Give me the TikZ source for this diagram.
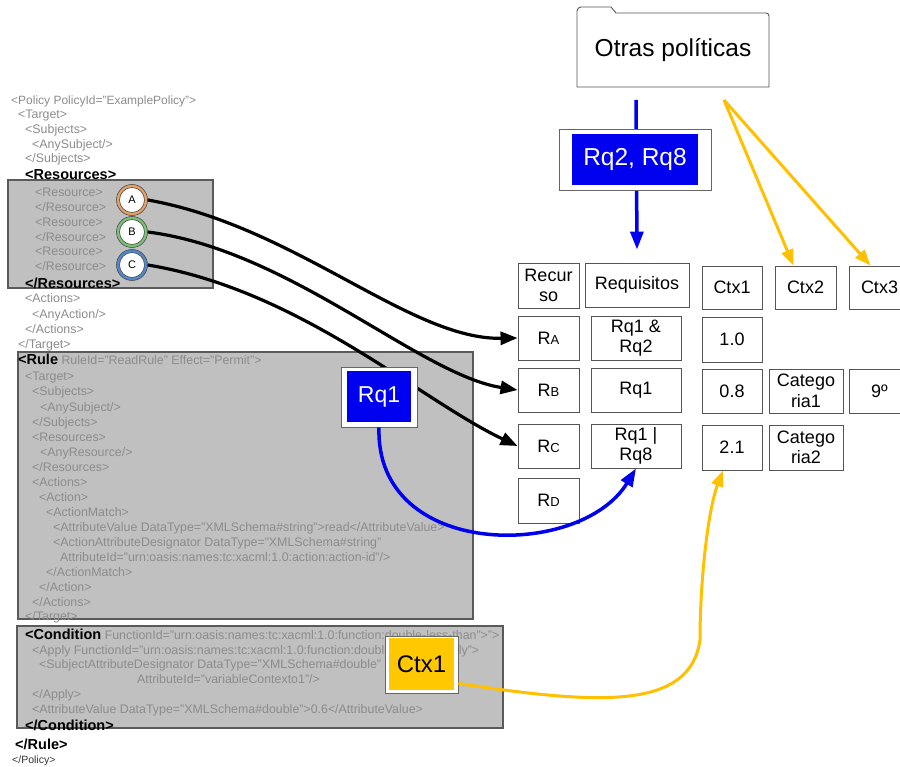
\documentclass[tikz,border=0pt]{standalone}
\usepackage{fontspec}
\setmainfont{Liberation Sans}
\usetikzlibrary{arrows.meta}
\definecolor{boxgray}{RGB}{192,192,192}
\definecolor{boxedge}{RGB}{90,90,90}
\definecolor{xmlgray}{RGB}{140,140,140}
\definecolor{pblue}{RGB}{0,0,240}
\definecolor{pyellow}{RGB}{255,200,0}
\definecolor{pyline}{RGB}{255,192,0}
\definecolor{cellgray}{RGB}{85,85,85}
\definecolor{corange}{RGB}{232,160,100}
\definecolor{cgreen}{RGB}{120,195,120}
\definecolor{cblue}{RGB}{80,135,205}
\begin{document}
\begin{tikzpicture}[x=1pt,y=-1pt,
  xg/.style={anchor=base west, inner sep=0pt, text=xmlgray, font=\fontsize{12.4}{14}\selectfont},
  xb/.style={anchor=base west, inner sep=0pt, text=black, font=\bfseries\fontsize{14.5}{16}\selectfont},
  graybox/.style={fill=boxgray, draw=boxedge, line width=1.2pt},
  cell/.style={draw=cellgray, line width=0.9pt, fill=white, inner sep=0pt, align=center, text=black, font=\fontsize{18}{20.5}\selectfont},
  frame/.style={draw=gray!80!black, fill=white, line width=0.9pt, inner sep=0pt},
  bluebox/.style={fill=pblue, text=white, inner sep=0pt},
  yelbox/.style={fill=pyellow, text=black, inner sep=0pt},
  ring/.style={circle, draw=black!70, inner sep=0pt, line width=0.6pt, minimum size=31pt},
  inring/.style={circle, draw=black!70, fill=white, inner sep=0pt, line width=0.6pt, minimum size=25pt, font=\fontsize{11}{11}\selectfont},
  blk/.style={draw=black, line width=3.2pt, -{Triangle[length=17pt,width=13pt]}},
  bl/.style={draw=pblue, line width=3.5pt, -{Triangle[length=18pt,width=13pt]}},
  yl/.style={draw=pyline, line width=3pt, -{Triangle[length=16pt,width=12pt]}}
]
\useasboundingbox (0,0) rectangle (900,767);

% gray boxes
\draw[graybox] (8,180) rectangle (213,288);
\draw[graybox] (18,352) rectangle (473,619);
\draw[graybox] (17,626) rectangle (503,728);

% XML text
\node[xg, font=\fontsize{12}{14}\selectfont] (l1) at (11,104.4) {<Policy PolicyId="ExamplePolicy">};
\node[xg] (l2) at (18,118.4) {<Target>};
\node[xg] (l3) at (25,133.4) {<Subjects>};
\node[xg] (l4) at (32,148.4) {<AnySubject/>};
\node[xg] (l5) at (25,162.4) {</Subjects>};
\node[xb] (l6) at (25,179.2) {<Resources>};
\node[xg] (l7) at (35,196.4) {<Resource>};
\node[xg] (l8) at (35,211.4) {</Resource>};
\node[xg] (l9) at (35,226.4) {<Resource>};
\node[xg] (l10) at (35,241.4) {</Resource>};
\node[xg] (l11) at (35,255.4) {<Resource>};
\node[xg] (l12) at (35,270.4) {</Resource>};
\node[xb] (l13) at (25,288.2) {</Resources>};
\node[xg] (l14) at (25,302.4) {<Actions>};
\node[xg] (l15) at (32,318.4) {<AnyAction/>};
\node[xg] (l16) at (25,333.4) {</Actions>};
\node[xg] (l17) at (18,348.4) {</Target>};
\node[xg] (l18) at (18,364.2) {{\bfseries\color{black}\fontsize{14.5}{16}\selectfont <Rule} RuleId="ReadRule" Effect="Permit">};
\node[xg] (l19) at (25,380.4) {<Target>};
\node[xg] (l20) at (32,395.4) {<Subjects>};
\node[xg] (l21) at (40,411.4) {<AnySubject/>};
\node[xg] (l22) at (32,426.4) {</Subjects>};
\node[xg] (l23) at (32,441.4) {<Resources>};
\node[xg] (l24) at (40,456.4) {<AnyResource/>};
\node[xg] (l25) at (32,471.4) {</Resources>};
\node[xg] (l26) at (32,486.4) {<Actions>};
\node[xg] (l27) at (39,501.4) {<Action>};
\node[xg] (l28) at (46,516.4) {<ActionMatch>};
\node[xg] (l29) at (53,531.4) {<AttributeValue DataType="XMLSchema\#string">read</AttributeValue>};
\node[xg] (l30) at (53,546.4) {<ActionAttributeDesignator DataType="XMLSchema\#string"};
\node[xg] (l31) at (60,561.4) {AttributeId="urn:oasis:names:tc:xacml:1.0:action:action-id"/>};
\node[xg] (l32) at (46,576.4) {</ActionMatch>};
\node[xg] (l33) at (39,591.4) {</Action>};
\node[xg] (l34) at (32,606.4) {</Actions>};
\node[xg] (l35) at (25,620.4) {</Target>};
\node[xg] (l36) at (25,639.2) {{\bfseries\color{black}\fontsize{14.5}{16}\selectfont <Condition} FunctionId="urn:oasis:names:tc:xacml:1.0:function:double-less-than">">};
\node[xg] (l37) at (32,654.4) {<Apply FunctionId="urn:oasis:names:tc:xacml:1.0:function:double-one-and-only">};
\node[xg] (l38) at (39,668.4) {<SubjectAttributeDesignator DataType="XMLSchema\#double"};
\node[xg] (l39) at (137,683.4) {AttributeId="variableContexto1"/>};
\node[xg] (l40) at (32,698.4) {</Apply>};
\node[xg] (l41) at (32,713.4) {<AttributeValue DataType="XMLSchema\#double">0.6</AttributeValue>};
\node[xb] (l42) at (25,730.2) {</Condition>};
\node[xb] (l43) at (15,749.2) {</Rule>};
\node[xg, text=black!80, font=\fontsize{10.5}{12}\selectfont] (l44) at (12,763.5) {</Policy>};

% circles
\node[ring, fill=corange] (cAo) at (132,200) {};
\node[inring] (cA) at (132,200) {A};
\node[ring, fill=cgreen] (cBo) at (132,232) {};
\node[inring] (cB) at (132,232) {B};
\node[ring, fill=cblue] (cCo) at (132,265) {};
\node[inring] (cC) at (132,265) {C};

% folder
\draw[draw=cellgray, line width=0.9pt, fill=white] (577,87) -- (577,11) to[out=90,in=180] (581,7) -- (611,7) -- (616,13) -- (766,13) to[out=0,in=90] (769,16) -- (769,87) -- cycle;
\node[inner sep=0pt, font=\fontsize{24.5}{26}\selectfont] (otras) at (673,50) {Otras políticas};

% table
\node[cell, minimum width=61pt, minimum height=45pt] (rec) at (548.5,285.5) {Recur\\so};
\node[cell, minimum width=104pt, minimum height=44pt] (req) at (637,285) {Requisitos};
\node[cell, minimum width=61pt, minimum height=44pt] (ra) at (548.5,338) {R{\fontsize{13}{13}\selectfont A}};
\node[cell, minimum width=61pt, minimum height=44pt] (rb) at (548.5,390) {R{\fontsize{13}{13}\selectfont B}};
\node[cell, minimum width=61pt, minimum height=44pt] (rc) at (548.5,446) {R{\fontsize{13}{13}\selectfont C}};
\node[cell, minimum width=61pt, minimum height=45pt] (rd) at (548.5,500.5) {R{\fontsize{13}{13}\selectfont D}};
\node[cell, minimum width=90pt, minimum height=44pt, font=\fontsize{18}{20}\selectfont] (qa) at (636,338) {Rq1 \&\\Rq2};
\node[cell, minimum width=90pt, minimum height=44pt] (qb) at (636,390) {Rq1};
\node[cell, minimum width=90pt, minimum height=44pt, font=\fontsize{18}{20}\selectfont] (qc) at (636,446) {Rq1 |\\Rq8};
\node[cell, minimum width=60pt, minimum height=43pt] (c1h) at (732,287.5) {Ctx1};
\node[cell, minimum width=61pt, minimum height=43pt] (c2h) at (805.5,287.5) {Ctx2};
\node[cell, minimum width=61pt, minimum height=43pt] (c3h) at (879.5,287.5) {Ctx3};
\node[cell, minimum width=60pt, minimum height=45pt] (v10) at (732,339.5) {1.0};
\node[cell, minimum width=60pt, minimum height=44pt] (v08) at (732,391) {0.8};
\node[cell, minimum width=74pt, minimum height=44pt] (cat1) at (806,391) {Catego\\ria1};
\node[cell, minimum width=61pt, minimum height=44pt] (v9) at (879.5,391) {9º};
\node[cell, minimum width=60pt, minimum height=45pt] (v21) at (732,447.5) {2.1};
\node[cell, minimum width=74pt, minimum height=45pt] (cat2) at (806,447.5) {Catego\\ria2};

% black connectors
\draw[blk] (cAo.east) .. controls (295,226) and (410,340) .. (ra.west);
\draw[blk] (cBo.east) .. controls (290,250) and (420,375) .. (rb.west);
\draw[blk] (cCo.east) .. controls (300,290) and (420,400) .. (rc.west);

% Rq1 box
\node[frame, minimum width=76pt, minimum height=60pt] (rq1f) at (379,397) {};
\node[bluebox, minimum width=64pt, minimum height=51pt, font=\fontsize{23}{25}\selectfont] (rq1) at (379,396.5) {Rq1};
\draw[bl] (rq1f.south) .. controls (375,560) and (580,560) .. (qc.south);

% top blue arrow and Rq2,Rq8 box
\coordinate (bs) at (636,100);
\draw[bl] (bs) -- ([yshift=13pt]req.north);
\node[frame, minimum width=152pt, minimum height=61pt] (rq28f) at (635,159.5) {};
\node[bluebox, minimum width=126pt, minimum height=51pt, font=\fontsize{24.5}{26}\selectfont] (rq28) at (635,159.5) {Rq2, Rq8};

% yellow arrows from other policies
\coordinate (ys) at (724,100);
\draw[yl] (ys) -- ([xshift=-12pt]c2h.north);
\draw[yl] (ys) -- ([xshift=-9pt]c3h.north);

% Ctx1 box and yellow curve
\node[frame, minimum width=73pt, minimum height=57pt] (ctxf) at (421.5,664.5) {};
\node[yelbox, minimum width=65pt, minimum height=52pt, font=\fontsize{24}{26}\selectfont] (ctx) at (421.5,664) {Ctx1};
\draw[yl] ([yshift=10pt]ctxf.south east) .. controls (600,705) and (690,710) .. (700,640) .. controls (700,580) and (708,510) .. ([xshift=-9pt]v21.south);
\end{tikzpicture}
\end{document}
